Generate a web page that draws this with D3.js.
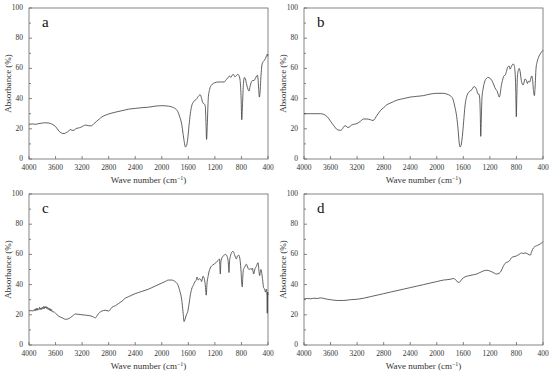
<!DOCTYPE html>
<html>
<head>
<meta charset="utf-8">
<script src="https://cdn.jsdelivr.net/npm/d3@7"></script>
<style>
  body { margin: 0; background: #fff; }
  svg { display: block; }
  .tick-label { font-family: "Liberation Serif", serif; font-size: 7.5px; fill: #333; }
  .axis-title { font-family: "Liberation Serif", serif; font-size: 9px; fill: #333; }
  .panel-letter { font-family: "Liberation Serif", serif; font-size: 15px; fill: #111; }
</style>
</head>
<body>
<div id="chart"></div>
<script>
//Tick values
var xTicks = [4000, 3600, 3200, 2800, 2400, 2000, 1600, 1200, 800, 400];
var yTicks = [0, 20, 40, 60, 80, 100];
var yMinor = [10, 30, 50, 70, 90];

//Panel letters
var letters = ["a", "b", "c", "d"];

//Spectrum a: [wave number, absorbance]
var specA = [
  [4000,23],[3950,23.2],[3900,23],[3850,23.5],[3800,23.8],[3750,24],[3700,23.8],[3650,23],
  [3600,21.5],[3550,18.5],[3500,17],[3470,16.8],[3440,17.5],[3400,18.5],[3380,19.5],[3350,19],
  [3320,19],[3300,20],[3260,20.5],[3220,21],[3180,22],[3150,22.5],[3100,22],[3060,22],
  [3020,23.5],[2980,25],[2940,26.5],[2900,28],[2850,29],[2800,29.8],[2700,31],[2600,32],
  [2500,33],[2400,33.5],[2300,34],[2200,34.3],[2100,35],[2000,35.3],[1900,35],[1850,34.5],
  [1800,33.5],[1760,31.5],[1730,28],[1700,23],[1680,17],[1660,11],[1645,8],[1630,8.5],
  [1610,13],[1590,22],[1570,30],[1550,35],[1520,38],[1480,39.5],[1440,42],[1420,42.5],
  [1400,40],[1380,37],[1360,36.5],[1345,35],[1335,25],[1325,13],[1315,22],[1300,40],
  [1280,46],[1250,49],[1200,50.5],[1150,51],[1100,51],[1060,51],[1030,52.5],[1000,54],
  [980,55],[960,54],[940,55.5],[920,56],[900,54.5],[880,55],[860,56],[840,55.5],
  [820,52],[805,40],[795,26],[785,35],[770,50],[755,54],[740,53],[720,49],
  [700,46],[685,45],[670,48],[650,51],[630,52],[610,52],[590,53.5],[570,55],
  [560,55.5],[550,53],[540,46],[530,41],[520,44],[510,52],[495,61],[480,64],
  [460,65],[440,66.5],[420,68.5],[410,69.5],[400,68]
];

//Spectrum b
var specB = [
  [4000,30],[3900,30],[3800,30],[3750,30],[3700,29.5],[3650,28],[3600,25],[3550,22],
  [3500,19.5],[3450,19],[3420,20],[3400,21.5],[3370,22],[3350,21],[3320,21],[3300,22],
  [3250,23],[3200,23.5],[3150,25],[3100,26.5],[3050,26.5],[3000,26],[2960,25.5],[2900,29],
  [2850,32],[2800,34],[2750,36],[2700,37],[2600,39],[2500,40],[2400,41],[2300,41.5],
  [2200,42],[2100,43],[2000,43.5],[1900,43.5],[1850,43],[1800,42],[1760,40],[1730,35],
  [1700,28],[1680,20],[1665,12],[1650,8],[1635,9],[1615,15],[1595,25],[1575,35],
  [1545,42],[1500,45],[1470,46],[1440,48],[1420,47.5],[1400,46],[1380,43],[1365,43],
  [1355,41],[1345,30],[1338,15],[1330,25],[1320,40],[1300,47],[1280,51],[1250,53.5],
  [1230,54],[1200,53.5],[1170,52],[1140,49],[1110,46],[1090,45],[1070,42],[1060,41],
  [1045,43],[1030,48],[1010,52],[990,55],[970,55.5],[950,58],[930,61],[910,61.5],
  [895,59.5],[880,61],[860,62.5],[850,63],[835,62],[820,57],[810,45],[802,28],
  [795,40],[785,55],[770,59],[760,60],[745,58],[730,53],[715,50],[700,49],
  [685,51],[670,53],[650,52],[635,50],[620,51.5],[600,51],[585,53],[570,55],
  [560,54],[545,46],[530,42],[520,47],[505,60],[490,64],[470,67],[450,69],
  [420,71],[400,72]
];

//Spectrum c
var specC = [
  [4000,22.5],[3970,22.8],[3940,22.5],[3920,23.5],[3910,22.5],[3900,24],[3890,23],[3880,24.5],
  [3870,23],[3860,24],[3850,23.5],[3840,25],[3830,23.5],[3820,24.5],[3810,23.5],[3800,25],
  [3790,24],[3780,25.5],[3770,24],[3760,25.5],[3750,24.5],[3740,25.5],[3730,24],[3720,25],
  [3710,23.5],[3700,24.5],[3690,23],[3680,24],[3670,22.5],[3660,23.5],[3650,22],[3630,22],
  [3600,21],[3550,19],[3500,18],[3450,17],[3400,17.5],[3350,19],[3300,20.5],[3250,20.3],
  [3200,20],[3100,19.5],[3050,19],[3000,18],[2980,19],[2950,21],[2900,22.5],[2850,23],
  [2800,22.5],[2750,25],[2700,26],[2650,27.5],[2600,29],[2550,31],[2500,32],[2400,34],
  [2300,35.5],[2200,37],[2100,39],[2000,41],[1950,42],[1900,43],[1850,43],[1800,42],
  [1760,40],[1730,36],[1700,30],[1680,22],[1665,15.5],[1650,17],[1630,20],[1610,22],
  [1590,27],[1570,33],[1550,37],[1520,40],[1500,42],[1480,43],[1470,45],[1450,43],
  [1430,44],[1410,43],[1400,42],[1380,45.5],[1360,44],[1345,40],[1330,33],[1320,40],
  [1300,46],[1270,51],[1230,53],[1200,54],[1150,56],[1130,57],[1125,52],[1118,47],
  [1110,55],[1090,58],[1060,59.5],[1040,60],[1020,59],[1005,57],[995,53],[988,48],
  [980,55],[965,59],[945,61.5],[928,62],[905,60],[890,58],[877,57],[860,59],
  [840,59.5],[820,56],[805,48],[795,40],[787,38.5],[780,45],[770,50],[752,51.5],
  [727,53.5],[702,51],[685,50],[667,50.5],[650,50],[636,51],[616,47],[596,50.5],
  [576,52],[551,54.5],[526,46],[506,50],[486,45],[466,38],[451,37],[436,35],
  [426,37],[416,33],[411,21],[405,35],[400,33]
];

//Spectrum d
var specD = [
  [4000,30.5],[3950,30.8],[3900,30.6],[3850,31],[3800,30.8],[3750,31.2],[3700,30.8],[3650,30.3],
  [3600,30],[3500,29.5],[3400,29.5],[3300,30],[3200,30.3],[3100,31],[3000,32],[2900,33],
  [2800,34],[2700,35],[2600,36],[2500,37],[2400,38],[2300,39],[2200,40],[2100,41],
  [2000,42],[1900,43],[1800,43.5],[1750,44],[1710,43],[1680,41.5],[1660,41.5],[1640,42.5],
  [1600,44.5],[1550,45.5],[1500,46],[1450,46.5],[1400,47],[1350,48],[1300,49],[1250,49.5],
  [1200,49],[1150,48],[1100,47],[1060,47.5],[1030,49],[1000,52],[960,54.5],[930,55],
  [900,56],[870,58],[840,58.5],[800,59],[760,60],[720,61],[700,60.5],[670,61],
  [640,60.5],[610,59.8],[590,59.5],[570,62],[540,64.5],[510,65.5],[480,66],[440,67],
  [410,68],[400,68.5]
];

var spectra = [specA, specB, specC, specD];

//Panel geometry
var W = 550, H = 374;
var pw = 239, ph = 151;
var origins = [[29, 8], [304, 8], [29, 194], [304, 194]];

var svg = d3.select("#chart")
  .append("svg")
  .attr("width", W)
  .attr("height", H);

var xScale = d3.scaleLinear().domain([4000, 400]).range([0, pw]);
var yScale = d3.scaleLinear().domain([0, 100]).range([ph, 0]);

var line = d3.line()
  .x(function(d) { return xScale(d[0]); })
  .y(function(d) { return yScale(d[1]); })
  .curve(d3.curveMonotoneX);

spectra.forEach(function(spec, i) {
  var g = svg.append("g")
    .attr("transform", "translate(" + origins[i][0] + "," + origins[i][1] + ")");

  //Frame
  g.append("rect")
    .attr("width", pw)
    .attr("height", ph)
    .attr("fill", "none")
    .attr("stroke", "#666")
    .attr("stroke-width", 0.8);

  //X ticks (inward) and labels
  g.selectAll(".xt")
    .data(xTicks)
    .enter()
    .append("line")
    .attr("x1", function(d) { return xScale(d); })
    .attr("x2", function(d) { return xScale(d); })
    .attr("y1", ph)
    .attr("y2", ph - 3)
    .attr("stroke", "#666")
    .attr("stroke-width", 0.8);

  g.selectAll(".xl")
    .data(xTicks)
    .enter()
    .append("text")
    .attr("class", "tick-label")
    .attr("x", function(d) { return xScale(d); })
    .attr("y", ph + 11)
    .attr("text-anchor", "middle")
    .text(function(d) { return d; });

  //Y ticks
  g.selectAll(".yt")
    .data(yTicks)
    .enter()
    .append("line")
    .attr("x1", 0)
    .attr("x2", 3)
    .attr("y1", function(d) { return yScale(d); })
    .attr("y2", function(d) { return yScale(d); })
    .attr("stroke", "#666")
    .attr("stroke-width", 0.8);

  g.selectAll(".ym")
    .data(yMinor)
    .enter()
    .append("line")
    .attr("x1", 0)
    .attr("x2", 2)
    .attr("y1", function(d) { return yScale(d); })
    .attr("y2", function(d) { return yScale(d); })
    .attr("stroke", "#666")
    .attr("stroke-width", 0.8);

  g.selectAll(".yl")
    .data(yTicks)
    .enter()
    .append("text")
    .attr("class", "tick-label")
    .attr("x", -6)
    .attr("y", function(d) { return yScale(d) + 2; })
    .attr("text-anchor", "end")
    .text(function(d) { return d; });

  //Axis titles
  g.append("text")
    .attr("class", "axis-title")
    .attr("transform", "translate(-18," + (ph / 2) + ") rotate(-90)")
    .attr("text-anchor", "middle")
    .text("Absorbance (%)");

  var xt = g.append("text")
    .attr("class", "axis-title")
    .attr("x", pw / 2)
    .attr("y", ph + 24)
    .attr("text-anchor", "middle");
  xt.append("tspan").text("Wave number (cm");
  xt.append("tspan").attr("font-size", "6px").attr("dy", -3).text("\u22121");
  xt.append("tspan").attr("dy", 3).text(")");

  //Spectrum
  g.append("path")
    .datum(spec)
    .attr("fill", "none")
    .attr("stroke", "#3a3a3a")
    .attr("stroke-width", 0.8)
    .attr("d", line);

  //Panel letter
  g.append("text")
    .attr("class", "panel-letter")
    .attr("x", 13)
    .attr("y", 19)
    .text(letters[i]);
});
</script>
</body>
</html>
